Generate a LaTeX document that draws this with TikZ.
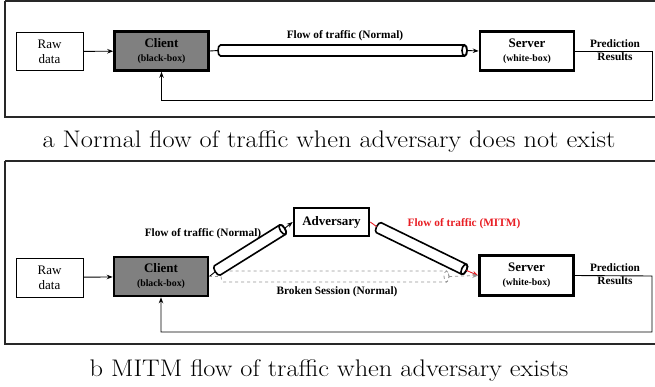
\documentclass[tikz,border=0pt]{standalone}
\usepackage{fontspec}
\newfontfamily\tnr{Liberation Serif}
\usetikzlibrary{arrows.meta}
\definecolor{clientgray}{RGB}{128,128,128}
\definecolor{mitmred}{RGB}{232,30,36}
\definecolor{framegray}{RGB}{40,40,40}
\definecolor{brokengray}{RGB}{150,150,150}
\tikzset{
  rawbox/.style={draw, line width=0.9pt, fill=white, minimum width=67pt, minimum height=38pt, align=center, font=\tnr\fontsize{13}{15}\selectfont},
  heavybox/.style={draw, line width=2.6pt, align=center, inner sep=0pt},
  arr/.style={-{Stealth[length=6pt,width=4.5pt]}, line width=0.9pt},
  pipeline/.style={draw, line width=1.6pt},
  brokenline/.style={draw=brokengray, dashed, line width=0.8pt},
  lbl/.style={font=\tnr\bfseries\fontsize{11.3}{13.5}\selectfont, align=center, inner sep=0pt},
  frm/.style={draw=framegray, line width=1.8pt},
  captext/.style={font=\fontsize{24}{28}\selectfont, inner sep=0pt, anchor=base}
}
% #1 name, #2 centre, #3 angle, #4 half length, #5 style
\newcommand{\drawpipe}[5]{%
\begin{scope}[shift={#2}, x=1pt, y=1pt, rotate=#3]
  \path[#5, fill=white] (-#4+2.5,5.5) -- (#4-2.5,5.5)
     arc[start angle=90, end angle=-90, x radius=2.5, y radius=5.5]
     -- (-#4+2.5,-5.5)
     arc[start angle=-90, end angle=-270, x radius=2.5, y radius=5.5] -- cycle;
  \path[#5] (#4-2.5,0) ellipse[x radius=2.5, y radius=5.5];
  \coordinate (#1-w) at (-#4,0);
  \coordinate (#1-e) at (#4,0);
\end{scope}}
\begin{document}
\begin{tikzpicture}[x=1pt,y=-1pt]
\useasboundingbox (0,0) rectangle (655,386);
% frames
\draw[frm] (5,1) -- (660,1);
\draw[frm] (5,1) -- (5,117) -- (660,117);
\draw[frm] (5,161) -- (660,161);
\draw[frm] (5,161) -- (5,344) -- (660,344);

% ---------- panel a ----------
\node[rawbox] (raw1) at (49.5,51.5) {Raw\\data};
\node[heavybox, fill=clientgray, minimum width=94pt, minimum height=39pt, font=\tnr\bfseries] (client1) at (161.5,51) {{\fontsize{13}{14}\selectfont Client}\\[2pt]{\fontsize{9.8}{11}\selectfont (black-box)}};
\node[heavybox, fill=white, minimum width=94pt, minimum height=39pt, font=\tnr\bfseries] (server1) at (527,51) {{\fontsize{13}{14}\selectfont Server}\\[2pt]{\fontsize{9.8}{11}\selectfont (white-box)}};
\drawpipe{pipe1}{(342.5,50.5)}{0}{124.5}{pipeline}
\node[lbl] (flow1) at (345,36) {Flow of traffic (Normal)};
\node[lbl] (pred1) at (615,50) {Prediction\\Results};
\coordinate (fb1a) at (652,51);
\coordinate (fb1b) at (652,100);
\draw[arr] (raw1) -- (client1);
\draw[line width=0.9pt] (client1.east) -- (pipe1-w);
\draw[arr] (pipe1-e) -- (server1.west);
\draw[arr] (server1.east) -- (fb1a) -- (fb1b) -| (client1.south);
\node[captext] (capa) at (329,147) {\scalebox{1.1}[1]{a Normal flow of traffic when adversary does not exist}};

% ---------- panel b ----------
\node[rawbox, minimum height=39pt] (raw2) at (49.5,277.5) {Raw\\data};
\node[heavybox, fill=clientgray, minimum width=94pt, minimum height=39pt, font=\tnr\bfseries] (client2) at (161,276.5) {{\fontsize{13}{14}\selectfont Client}\\[2pt]{\fontsize{9.8}{11}\selectfont (black-box)}};
\node[heavybox, fill=white, minimum width=94pt, minimum height=40pt, font=\tnr\bfseries] (server2) at (526.5,275.5) {{\fontsize{13}{14}\selectfont Server}\\[2pt]{\fontsize{9.8}{11}\selectfont (white-box)}};
\node[heavybox, fill=white, minimum width=75pt, minimum height=28pt, font=\tnr\bfseries\fontsize{13}{15}\selectfont] (adv) at (331.5,222) {Adversary};
\drawpipe{pipeb}{(335,276.5)}{0}{114}{brokenline}
\drawpipe{pipe2a}{(250,250)}{32}{41}{pipeline}
\drawpipe{pipe2b}{(421.5,248.5)}{-26}{50}{pipeline}
\node[lbl] (flow2) at (203,234) {Flow of traffic (Normal)};
\node[lbl, text=mitmred] (flow3) at (464,224) {Flow of traffic (MITM)};
\node[lbl] (broken) at (337,292) {Broken Session (Normal)};
\node[lbl] (pred2) at (615,274) {Prediction\\Results};
\coordinate (fb2a) at (652,276);
\coordinate (fb2b) at (652,332);
\draw[arr] (raw2) -- (client2);
\draw[line width=0.9pt] (client2.east) -- (pipe2a-w);
\draw[arr] (pipe2a-e) -- (adv.west);
\draw[line width=0.9pt, mitmred] (adv.east) -- (pipe2b-w);
\draw[arr, mitmred] (pipe2b-e) -- (server2.west);
\draw[brokenline] (client2.east) -- (pipeb-w);
\draw[arr, brokengray, dashed, line width=0.8pt] (pipeb-e) -- (server2.west);
\draw[arr] (server2.east) -- (fb2a) -- (fb2b) -| (client2.south);
\node[captext] (capb) at (329,376) {\scalebox{1.1}[1]{b MITM flow of traffic when adversary exists}};
\end{tikzpicture}
\end{document}
